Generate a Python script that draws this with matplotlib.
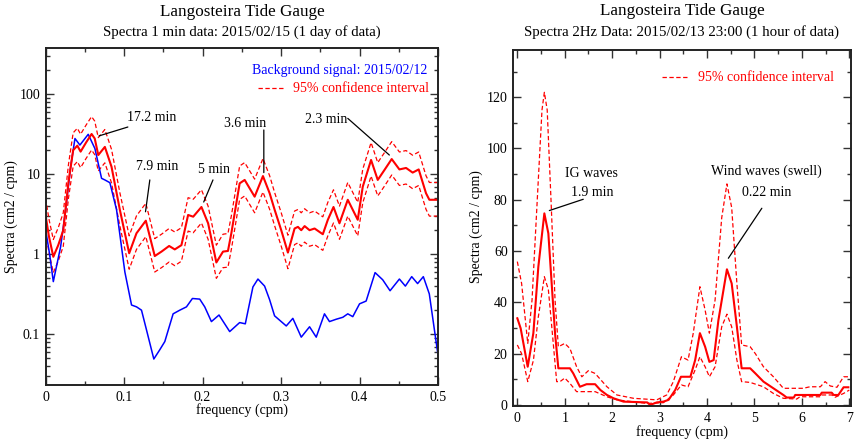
import matplotlib
matplotlib.use("Agg")
import matplotlib.pyplot as plt
from matplotlib.ticker import LogLocator, MultipleLocator, FixedLocator, NullFormatter
from matplotlib.lines import Line2D

plt.rcParams['font.family'] = ['Liberation Serif', 'DejaVu Serif']

# ---------------- Left panel data (1 min data, log scale) ----------------
freq_main = [0, 0.004, 0.0097, 0.016, 0.0224, 0.029, 0.035, 0.0403, 0.0445, 0.0515,
             0.0585, 0.0625, 0.067, 0.0754, 0.0839, 0.0945, 0.1064, 0.1157, 0.1276, 0.139,
             0.1476, 0.1573, 0.1645, 0.173, 0.1815, 0.188, 0.1985, 0.207, 0.2175, 0.226,
             0.2323, 0.2366, 0.2472, 0.2536, 0.2663, 0.2769, 0.2854, 0.2918, 0.3002, 0.3087,
             0.3172, 0.3215, 0.3257, 0.33, 0.3363, 0.3427, 0.3532, 0.3596, 0.3668, 0.3744,
             0.385, 0.3977, 0.4041, 0.4147, 0.4232, 0.4317, 0.441, 0.4508, 0.4593, 0.4677,
             0.4754, 0.4847, 0.489, 0.5]
spec_main = [3.0, 1.7, 0.93, 1.3, 2.0, 8.0, 20, 22.8, 19.2, 25,
             31.9, 28, 17.4, 22, 12.4, 3.6, 1.03, 1.83, 2.63, 0.95,
             1.08, 1.27, 1.15, 1.3, 3.1, 2.95, 3.9, 2.44, 0.79, 1.08,
             1.1, 1.83, 7.7, 8.5, 5.25, 9.5, 5.8, 3.6, 2.0, 1.05,
             2.1, 2.2, 2.0, 2.25, 2.0, 2.1, 1.78, 2.7, 3.9, 2.44,
             4.8, 2.7, 7.0, 15.1, 8.5, 11.3, 15.5, 11.5, 12, 10.5,
             11.5, 5.8, 4.8, 4.8]
spec_upper = [4.95, 2.8, 1.53, 2.15, 3.3, 13.2, 33, 37.6, 31.7, 41.3,
              52.6, 46.2, 28.7, 36.3, 20.5, 5.9, 1.70, 3.02, 4.34, 1.57,
              1.78, 2.10, 1.90, 2.15, 5.1, 4.87, 6.4, 4.0, 1.30, 1.78,
              1.82, 3.02, 12.7, 14.0, 8.7, 15.7, 9.6, 5.9, 3.3, 1.73,
              3.47, 3.63, 3.3, 3.71, 3.3, 3.47, 2.94, 4.46, 6.4, 4.0,
              7.9, 4.46, 11.6, 24.9, 14.0, 18.6, 25.6, 19.0, 19.8, 17.3,
              19.0, 9.6, 7.9, 7.9]
spec_lower = [1.89, 1.07, 0.59, 0.82, 1.26, 5.0, 12.6, 14.4, 12.1, 15.8,
              20.1, 17.6, 11.0, 13.9, 7.8, 2.27, 0.65, 1.15, 1.66, 0.60,
              0.68, 0.80, 0.72, 0.82, 1.95, 1.86, 2.46, 1.54, 0.50, 0.68,
              0.69, 1.15, 4.85, 5.36, 3.3, 6.0, 3.65, 2.27, 1.26, 0.66,
              1.32, 1.39, 1.26, 1.42, 1.26, 1.32, 1.12, 1.70, 2.46, 1.54,
              3.0, 1.70, 4.4, 9.5, 5.36, 7.1, 9.8, 7.25, 7.56, 6.6,
              7.25, 3.65, 3.0, 3.0]

freq_bg = [0, 0.005, 0.0097, 0.019, 0.0254, 0.0318, 0.0373, 0.0436, 0.0542, 0.0627,
           0.0712, 0.0754, 0.0818, 0.0903, 0.1009, 0.1094, 0.1158, 0.1221, 0.1285, 0.1378,
           0.1454, 0.1518, 0.1624, 0.1709, 0.1794, 0.187, 0.1963, 0.2027, 0.2112, 0.2209,
           0.2345, 0.2472, 0.2544, 0.2641, 0.2705, 0.279, 0.2854, 0.2917, 0.3066, 0.315,
           0.3257, 0.3363, 0.3448, 0.3553, 0.3617, 0.3702, 0.3787, 0.385, 0.3914, 0.4,
           0.4084, 0.4198, 0.4295, 0.4389, 0.4508, 0.4584, 0.4665, 0.474, 0.4813, 0.4889,
           0.5]
spec_bg = [2.0, 1.0, 0.455, 1.24, 3.6, 12.4, 28, 23.2, 31.6, 21,
           8.9, 8.5, 7.85, 3.6, 0.6, 0.232, 0.22, 0.2, 0.113, 0.049,
           0.064, 0.081, 0.18, 0.2, 0.22, 0.28, 0.275, 0.22, 0.144, 0.174,
           0.108, 0.14, 0.135, 0.39, 0.49, 0.40, 0.27, 0.17, 0.127, 0.158,
           0.092, 0.124, 0.092, 0.18, 0.144, 0.154, 0.163, 0.18, 0.166, 0.24,
           0.26, 0.59, 0.48, 0.35, 0.49, 0.40, 0.525, 0.43, 0.525, 0.32,
           0.055]

left_xticks = [0, 0.1, 0.2, 0.3, 0.4, 0.5]
left_xticklabels = ['0', '0.1', '0.2', '0.3', '0.4', '0.5']
left_yticks = [0.1, 1, 10, 100]
left_yticklabels = ['0.1', '1', '10', '100']

# ---------------- Right panel data (2 Hz data, linear scale) ----------------
freq_r = [0, 0.07, 0.219, 0.338, 0.443, 0.57, 0.654, 0.724, 0.795, 0.865,
          1.11, 1.18, 1.32, 1.46, 1.64, 1.75, 1.89, 2.03, 2.24, 2.74,
          2.8, 2.94, 3.08, 3.19, 3.33, 3.45, 3.65, 3.75, 3.85, 3.96,
          4.05, 4.14, 4.24, 4.42, 4.52, 4.63, 4.73, 4.91, 5.02, 5.19,
          5.40, 5.61, 5.68, 5.83, 5.86, 6.39, 6.42, 6.63, 6.67, 6.77,
          6.88, 6.98]
spec_r = [33.8, 29.9, 14.9, 28, 53.9, 74.7, 66.9, 47.4, 28, 14.3,
          14.3, 12.3, 7.1, 8.1, 8.1, 5.85, 3.9, 2.6, 1.3, 1.0,
          0.0, 1.0, 1.3, 2.0, 5.85, 11, 11, 17.5, 28, 22.7,
          16.8, 17.5, 33, 52.9, 47.4, 30.5, 14.3, 14.3, 12.3, 9.1,
          6.5, 3.9, 2.9, 2.9, 3.9, 3.9, 4.8, 4.8, 3.9, 3.9,
          6.9, 6.9]

freq_r_up = [0, 0.09, 0.22, 0.31, 0.42, 0.52, 0.57, 0.63, 0.71, 0.795,
             0.865, 1.0, 1.11, 1.25, 1.36, 1.5, 1.64, 1.89, 2.1, 2.45,
             2.94, 3.15, 3.29, 3.46, 3.6, 3.71, 3.85, 3.96, 4.05, 4.17,
             4.31, 4.42, 4.52, 4.63, 4.73, 4.91, 5.02, 5.19, 5.40, 5.61,
             6.03, 6.17, 6.39, 6.49, 6.6, 6.74, 6.88, 7.0]
spec_r_up = [55.9, 47.4, 24, 40.9, 79.9, 115, 121.9, 115, 80, 41,
             22.7, 24, 22, 14.9, 11, 13.4, 12.3, 7.1, 3.9, 2.6,
             2.0, 3.9, 9.1, 18.8, 17.5, 28, 46.1, 37, 28, 40.9,
             73, 86.2, 77, 47.4, 23.4, 22.7, 20, 14.9, 11, 6.5,
             6.5, 7.1, 7.1, 9.1, 7.4, 6.9, 11, 11]

freq_r_lo = [0, 0.09, 0.22, 0.34, 0.44, 0.57, 0.654, 0.72, 0.83, 0.9,
             1.0, 1.11, 1.25, 1.64, 1.89, 2.1, 2.74, 3.08, 3.29, 3.46,
             3.6, 3.75, 3.85, 3.96, 4.05, 4.17, 4.31, 4.42, 4.52, 4.63,
             4.73, 4.91, 5.19, 5.40, 5.61, 5.89, 5.96, 6.39, 6.42, 6.63,
             6.7, 6.88, 7.0]
spec_r_lo = [23.4, 20, 9.1, 17.5, 34, 50, 45, 31.8, 9.1, 9.1,
             10.5, 8.4, 5.2, 5.2, 3.2, 2.0, 0.6, 0.9, 3.9, 7.8,
             7.1, 13.7, 18.8, 14.9, 11, 14.9, 30.5, 35.4, 30.5, 17.5,
             9.1, 8.8, 7.1, 4.5, 2.6, 2.3, 3.2, 3.2, 3.9, 3.9,
             3.0, 4.5, 5.8]

right_xticks = [0, 1, 2, 3, 4, 5, 6, 7]
right_yticks = [0, 20, 40, 60, 80, 100, 120]

# ---------------- Figure ----------------
W, H = 856, 442
fig = plt.figure(figsize=(W / 100, H / 100), dpi=100)

RED = '#ff0000'
BLUE = '#0000ff'
DASH = (0, (3.5, 2.0))
LW_MAIN = 1.5
LW_DASH = 0.9
LW_BG = 1.1


def fx(px):
    return px / W


def fy(py):
    return 1 - py / H


axL = fig.add_axes([fx(45.7), fy(385), fx(438) - fx(45.7), fy(48.3) - fy(385)])
axR = fig.add_axes([fx(513.3), fy(406), fx(850.7) - fx(513.3), fy(50) - fy(406)])

for ax in (axL, axR):
    for s in ax.spines.values():
        s.set_linewidth(1.4)
        s.set_color('#222222')
    ax.tick_params(which='both', direction='in', top=True, right=True,
                   labelsize=10, width=1.0, color='#333333')
    ax.tick_params(which='major', length=5.5, pad=4)
    ax.tick_params(which='minor', length=3)

# Left panel
axL.plot(freq_main, spec_upper, color=RED, lw=LW_DASH, linestyle=DASH)
axL.plot(freq_main, spec_lower, color=RED, lw=LW_DASH, linestyle=DASH)
axL.plot(freq_bg, spec_bg, color=BLUE, lw=LW_BG)
axL.plot(freq_main, spec_main, color=RED, lw=LW_MAIN)
axL.set_yscale('log')
axL.set_xlim(0, 0.5)
axL.set_ylim(0.0232, 376)
axL.xaxis.set_major_locator(FixedLocator(left_xticks))
axL.set_xticklabels(left_xticklabels)
axL.xaxis.set_minor_locator(MultipleLocator(0.05))
axL.yaxis.set_major_locator(FixedLocator(left_yticks))
axL.set_yticklabels(left_yticklabels)
axL.yaxis.set_minor_locator(LogLocator(base=10, subs=range(2, 10)))
axL.yaxis.set_minor_formatter(NullFormatter())

# Left legend (manual)
axL.text(0.974, 0.935, 'Background signal: 2015/02/12', color=BLUE, fontsize=10,
         ha='right', va='center', transform=axL.transAxes)
axL.add_line(Line2D([0.541, 0.610], [0.881, 0.881], color=RED, lw=LW_DASH, linestyle=DASH,
                    transform=axL.transAxes))
axL.text(0.630, 0.881, '95% confidence interval', color=RED, fontsize=10,
         ha='left', va='center', transform=axL.transAxes)

# Left annotations
ann_kw = dict(arrowprops=dict(arrowstyle='-', color='black', lw=0.9, shrinkA=0, shrinkB=0))
axL.text(0.135, 50.6, '17.2 min', fontsize=10, ha='center', va='center')
axL.annotate('', xy=(0.068, 30.2), xytext=(0.1047, 39), **ann_kw)
axL.text(0.142, 12.4, '7.9 min', fontsize=10, ha='center', va='center')
axL.annotate('', xy=(0.1272, 3.4), xytext=(0.1327, 8.5), **ann_kw)
axL.text(0.2144, 11.5, '5 min', fontsize=10, ha='center', va='center')
axL.annotate('', xy=(0.2014, 4.5), xytext=(0.2132, 8.5), **ann_kw)
axL.text(0.2548, 43.4, '3.6 min', fontsize=10, ha='center', va='center')
axL.annotate('', xy=(0.278, 10.5), xytext=(0.278, 35.8), **ann_kw)
axL.text(0.357, 48.7, '2.3 min', fontsize=10, ha='center', va='center')
axL.annotate('', xy=(0.438, 17.4), xytext=(0.385, 50), **ann_kw)

# Right panel
axR.plot(freq_r_up, spec_r_up, color=RED, lw=LW_DASH, linestyle=DASH)
axR.plot(freq_r_lo, spec_r_lo, color=RED, lw=LW_DASH, linestyle=DASH)
axR.plot(freq_r, spec_r, color=RED, lw=LW_MAIN)
axR.set_xlim(-0.085, 7.03)
axR.set_ylim(-0.4, 138.4)
axR.xaxis.set_major_locator(FixedLocator(right_xticks))
axR.xaxis.set_minor_locator(MultipleLocator(0.5))
axR.yaxis.set_major_locator(FixedLocator(right_yticks))
axR.yaxis.set_minor_locator(MultipleLocator(10))

axR.add_line(Line2D([0.441, 0.521], [0.924, 0.924], color=RED, lw=LW_DASH, linestyle=DASH,
                    transform=axR.transAxes))
axR.text(0.547, 0.924, '95% confidence interval', color=RED, fontsize=10,
         ha='left', va='center', transform=axR.transAxes)

axR.text(1.57, 90.3, 'IG waves', fontsize=10, ha='center', va='center')
axR.text(1.57, 82.8, '1.9 min', fontsize=10, ha='center', va='center')
axR.annotate('', xy=(0.675, 75.8), xytext=(1.39, 80.2), **ann_kw)
axR.text(5.26, 91.3, 'Wind waves (swell)', fontsize=10, ha='center', va='center')
axR.text(5.26, 82.8, '0.22 min', fontsize=10, ha='center', va='center')
axR.annotate('', xy=(4.45, 57.2), xytext=(5.156, 76.7), **ann_kw)

# Titles and axis labels
fig.text(fx(242), fy(11.7), 'Langosteira Tide Gauge', fontsize=12.3, ha='center', va='center')
fig.text(fx(242), fy(32.3), 'Spectra 1 min data: 2015/02/15 (1 day of data)', fontsize=10.7,
         ha='center', va='center')
fig.text(fx(682), fy(11.0), 'Langosteira Tide Gauge', fontsize=12.3, ha='center', va='center')
fig.text(fx(682), fy(32.3), 'Spectra 2Hz Data: 2015/02/13 23:00 (1 hour of data)', fontsize=10.7,
         ha='center', va='center')

fig.text(fx(242), fy(410), 'frequency (cpm)', fontsize=10, ha='center', va='center')
fig.text(fx(682.5), fy(432), 'frequency (cpm)', fontsize=10, ha='center', va='center')
fig.text(fx(11), fy(217), 'Spectra (cm2 / cpm)', fontsize=10, rotation=90, ha='center', va='center')
fig.text(fx(476.7), fy(227), 'Spectra (cm2 / cpm)', fontsize=10, rotation=90, ha='center', va='center')

fig.savefig('out.png', dpi=100)
